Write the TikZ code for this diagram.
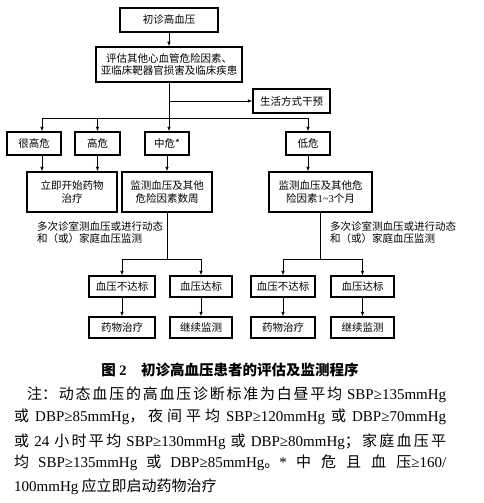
\documentclass[tikz,border=0pt]{standalone}
\usepackage{fontspec}
\setmainfont{Noto Sans CJK SC}
\newfontfamily\enfont{Liberation Serif}
\newcommand{\en}[1]{{\enfont #1}}
\newcommand{\fullline}[1]{\parfillskip=0pt \spaceskip=4pt plus 1pt #1\par}
\usepackage{tikz}
\usetikzlibrary{arrows,positioning}
\XeTeXlinebreaklocale "zh"
\XeTeXlinebreakskip=0pt plus 2pt

\begin{document}
\begin{tikzpicture}[x=1pt, y=-1pt,
    box/.style={draw, line width=1.3pt, align=center, inner sep=2pt,
        font=\fontsize{10.5}{12.5}\selectfont},
    arr/.style={->, >=latex, line width=0.6pt},
    line/.style={line width=0.6pt},
    note/.style={align=left, inner sep=0pt, font=\fontsize{10.5}{12.5}\selectfont},
    remark/.style={anchor=west, inner sep=0pt, align=justify,
        font=\fontsize{15}{18}\selectfont}]
    \useasboundingbox (0,0) rectangle (484,503);

    % Initial visit and assessment
    \node[box, minimum width=98pt, minimum height=24pt] (init) at (169,20) {初诊高血压};
    \node[box, minimum width=146pt, minimum height=35pt] (eval) at (169,64.5)
        {评估其他心血管危险因素、\\亚临床靶器官损害及临床疾患};
    \node[box, minimum width=77pt, minimum height=24pt] (life) at (291.5,101) {生活方式干预};

    % Risk levels
    \node[box, minimum width=54pt, minimum height=23pt] (vh) at (34,143.5) {很高危};
    \node[box, minimum width=45pt, minimum height=23pt] (hi) at (97.5,143.5) {高危};
    \node[box, minimum width=44pt, minimum height=23pt] (mid) at (167,143.5) {中危*};
    \node[box, minimum width=44pt, minimum height=23pt] (low) at (308,143.5) {低危};

    % Actions
    \node[box, minimum width=90pt, minimum height=40pt] (drug) at (72,192) {立即开始药物\\治疗};
    \node[box, minimum width=90pt, minimum height=40pt] (monw) at (167,192) {监测血压及其他\\危险因素数周};
    \node[box, minimum width=103pt, minimum height=40pt] (monm) at (320.5,192)
        {监测血压及其他危\\险因素\en{1\textasciitilde3}个月};

    % Outcomes
    \node[box, minimum width=66pt, minimum height=21pt] (l1) at (122,286.5) {血压不达标};
    \node[box, minimum width=62pt, minimum height=21pt] (l2) at (201,286.5) {血压达标};
    \node[box, minimum width=64pt, minimum height=21pt] (r1) at (283,286.5) {血压不达标};
    \node[box, minimum width=63pt, minimum height=21pt] (r2) at (362.5,286.5) {血压达标};
    \node[box, minimum width=66pt, minimum height=21pt] (l1b) at (122,327.5) {药物治疗};
    \node[box, minimum width=62pt, minimum height=21pt] (l2b) at (201,327.5) {继续监测};
    \node[box, minimum width=64pt, minimum height=21pt] (r1b) at (283,327.5) {药物治疗};
    \node[box, minimum width=63pt, minimum height=21pt] (r2b) at (362.5,327.5) {继续监测};

    \node[note, anchor=north west] (tl) at (37,221) {多次诊室测血压或进行动态\\和（或）家庭血压监测};
    \node[note, anchor=north west] (tr) at (330,221) {多次诊室测血压或进行动态\\和（或）家庭血压监测};

    % Connectors
    \coordinate (br) at (169,118);
    \coordinate (lj) at (169,101);
    \coordinate (b1) at (42,118);
    \coordinate (b4) at (308,118);
    \draw[arr] (init) -- (eval);
    \draw[line] (eval) -- (br);
    \draw[arr] (lj) -- (life);
    \draw[line] (b1) -- (b4);
    \draw[arr] (b1) -- (b1 |- vh.north);
    \draw[arr] (hi.north |- br) -- (hi);
    \draw[arr] (br) -- (br |- mid.north);
    \draw[arr] (b4) -- (low);
    \draw[arr] (b1 |- vh.south) -- (b1 |- drug.north);
    \draw[arr] (hi) -- (hi |- drug.north);
    \draw[arr] (mid) -- (mid |- monw.north);
    \draw[arr] (low) -- (low |- monm.north);

    \coordinate (sl) at (167,259);
    \coordinate (sr) at (320.5,259);
    \draw[line] (monw) -- (sl);
    \draw[line] (monm) -- (sr);
    \draw[line] (l1 |- sl) -- (l2 |- sl);
    \draw[line] (r1 |- sr) -- (r2 |- sr);
    \draw[arr] (l1 |- sl) -- (l1);
    \draw[arr] (l2 |- sl) -- (l2);
    \draw[arr] (r1 |- sr) -- (r1);
    \draw[arr] (r2 |- sr) -- (r2);
    \draw[arr] (l1) -- (l1b);
    \draw[arr] (l2) -- (l2b);
    \draw[arr] (r1) -- (r1b);
    \draw[arr] (r2) -- (r2b);

    % Caption and remarks
    \node[font=\fontsize{14.5}{17}\selectfont\bfseries] (cap) at (230,370)
        {图 \en{2}\quad 初诊高血压患者的评估及监测程序};
    \node[remark, text width=419pt] (n1) at (27,395)
        {\fullline{注：动态血压的高血压诊断标准为白昼平均 \en{SBP≥135mmHg}}};
    \node[remark, text width=432pt] (n2) at (14,417)
        {\fullline{或 \en{DBP≥85mmHg}，夜间平均 \en{SBP≥120mmHg} 或 \en{DBP≥70mmHg}}};
    \node[remark, text width=432pt] (n3) at (14,442)
        {\fullline{或 \en{24} 小时平均 \en{SBP≥130mmHg} 或 \en{DBP≥80mmHg}；家庭血压平}};
    \node[remark, text width=432pt] (n4) at (14,463)
        {\fullline{均 \en{SBP≥135mmHg} 或 \en{DBP≥85mmHg}。\en{*} 中危且血压\en{≥160/}}};
    \node[anchor=west, inner sep=0pt, font=\fontsize{15}{18}\selectfont] (n5) at (14,487)
        {\en{100mmHg} 应立即启动药物治疗};
\end{tikzpicture}
\end{document}
